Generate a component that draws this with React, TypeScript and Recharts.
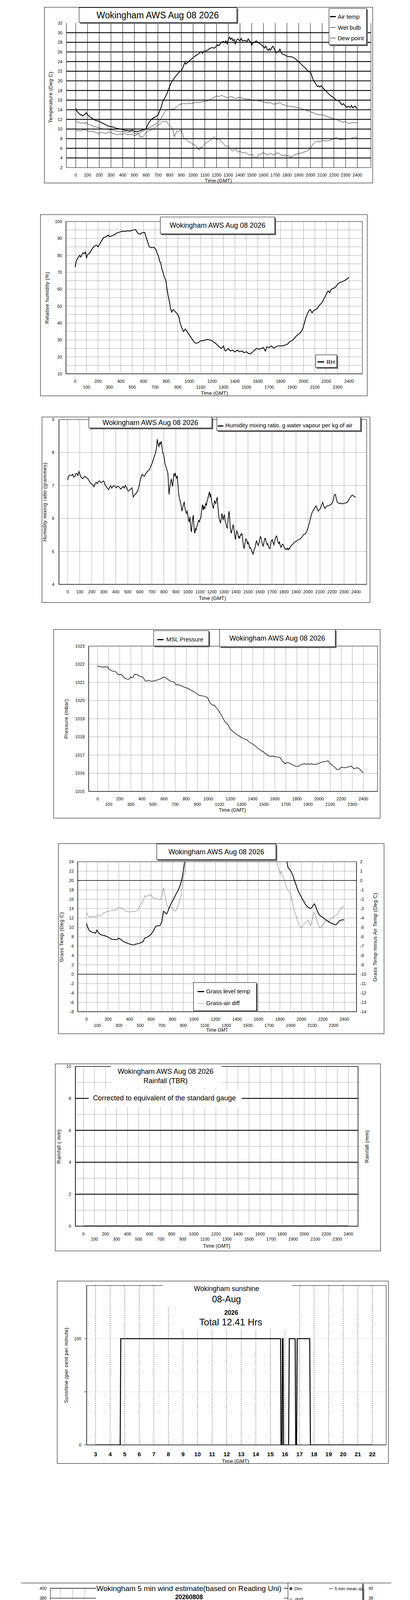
import React from 'react'
import { LineChart, ComposedChart, Line, Scatter, XAxis, YAxis, ReferenceLine, ReferenceArea } from 'recharts'

const FONT = '"Liberation Sans", Arial, Helvetica, sans-serif'

// ---- ticks ----
const hourTicks = [0, 100, 200, 300, 400, 500, 600, 700, 800, 900, 1000, 1100, 1200, 1300, 1400, 1500, 1600, 1700, 1800, 1900, 2000, 2100, 2200, 2300, 2400]
const sunHours = [3, 4, 5, 6, 7, 8, 9, 10, 11, 12, 13, 14, 15, 16, 17, 18, 19, 20, 21, 22]
const tempTicks = [2, 4, 6, 8, 10, 12, 14, 16, 18, 20, 22, 24, 26, 28, 30, 32]
const tempGrid = [4, 6, 8, 10, 12, 14, 16, 18, 20, 22, 24, 26, 28, 30]
const rhTicks = [10, 20, 30, 40, 50, 60, 70, 80, 90, 100]
const rhGrid = [15, 20, 25, 30, 35, 40, 45, 50, 55, 60, 65, 70, 75, 80, 85, 90, 95]
const mixTicks = [4, 5, 6, 7, 8, 9]
const mixGrid = [5, 6, 7, 8]
const presTicks = [1015, 1016, 1017, 1018, 1019, 1020, 1021, 1022, 1023]
const presGrid = [1016, 1017, 1018, 1019, 1020, 1021, 1022]
const grassTicks = [-8, -6, -4, -2, 0, 2, 4, 6, 8, 10, 12, 14, 16, 18, 20, 22, 24]
const grassGrid = [-6, -4, -2, 2, 4, 6, 8, 10, 12, 14, 16, 18, 22]
const grassSolid = [0, 20]
const diffTicks = [-14, -13, -12, -11, -10, -9, -8, -7, -6, -5, -4, -3, -2, -1, 0, 1, 2]
const rainTicks = [0, 2, 4, 6, 8, 10]
const rainMinor = [1, 3, 5, 7, 9]
const rainMajor = [2, 4, 6, 8]
const sunTicks = [0, 50, 100]
const sunGrid = [50, 100]
const degTicks = [0, 20, 40, 60, 80, 100, 120, 140, 160, 180, 200, 220, 240, 260, 280, 300, 320, 340, 360, 380, 400]
const degGrid = [20, 40, 60, 80, 100, 120, 140, 160, 180, 200, 220, 240, 260, 280, 300, 320, 340, 360, 380, 400]
const ktTicks = [0, 2, 4, 6, 8, 10, 12, 14, 16, 18, 20, 22, 24, 26, 28, 30, 32, 34, 36, 38, 40]

// ---- series: [time HHMM, value] ----
const airTemp = [[0,14.3],[10,13.7],[20,13.4],[30,13.2],[40,12.9],[50,13.0],[60,12.7],[70,12.9],[80,13.1],[90,13.4],[100,12.9],[110,12.8],[120,12.5],[140,12.2],[160,11.9],[180,11.7],[200,11.6],[220,11.3],[240,11.1],[260,10.8],[280,10.6],[300,10.5],[320,10.4],[340,10.2],[360,10.1],[380,10.0],[400,9.9],[420,9.7],[440,9.7],[460,9.6],[480,9.8],[500,9.5],[520,9.4],[540,9.6],[560,9.7],[580,9.9],[600,10.1],[610,10.7],[620,11.2],[640,11.9],[660,12.3],[680,12.5],[700,12.9],[710,13.4],[720,14.1],[730,14.7],[740,15.6],[750,16.1],[760,16.5],[770,17.0],[780,17.5],[790,18.2],[800,18.8],[810,19.4],[820,19.9],[840,20.6],[860,21.2],[880,21.8],[900,22.1],[910,22.6],[920,23.2],[930,23.8],[940,23.5],[950,23.7],[960,24.0],[980,24.4],[1000,24.8],[1020,25.2],[1040,25.5],[1060,25.9],[1070,26.1],[1080,25.7],[1090,26.0],[1100,26.2],[1120,26.3],[1140,26.7],[1160,26.9],[1180,26.8],[1200,27.2],[1210,27.5],[1220,27.3],[1240,28.0],[1260,28.2],[1270,27.9],[1280,28.3],[1290,27.7],[1300,28.6],[1310,29.1],[1320,28.6],[1330,28.9],[1340,28.3],[1350,28.6],[1360,27.7],[1370,28.4],[1380,28.7],[1400,28.3],[1410,28.8],[1420,28.3],[1440,28.4],[1460,28.2],[1470,28.7],[1480,28.3],[1490,28.1],[1500,27.4],[1510,27.9],[1520,28.0],[1540,28.3],[1550,28.0],[1560,27.9],[1580,27.5],[1600,27.1],[1610,26.8],[1620,27.2],[1630,26.6],[1640,26.3],[1650,26.7],[1660,26.4],[1670,26.9],[1680,27.2],[1690,26.7],[1700,26.2],[1710,25.8],[1720,26.0],[1730,26.1],[1740,26.6],[1750,26.0],[1760,25.6],[1780,25.4],[1800,25.1],[1820,25.0],[1840,25.0],[1860,24.8],[1880,24.4],[1900,24.0],[1920,23.5],[1940,23.0],[1960,22.6],[1980,22.0],[2000,21.8],[2010,21.2],[2020,20.4],[2040,19.6],[2060,18.8],[2070,19.0],[2080,18.7],[2090,19.0],[2100,18.7],[2120,18.2],[2140,17.7],[2160,17.2],[2180,16.8],[2200,16.5],[2220,16.0],[2240,15.9],[2260,15.3],[2270,15.0],[2280,15.3],[2300,14.7],[2310,14.5],[2320,14.7],[2340,14.5],[2350,14.9],[2360,14.4],[2380,14.8],[2390,14.4],[2400,14.3]]
const wetBulb = [[0,11.6],[20,11.4],[40,11.2],[60,11.3],[80,11.1],[90,11.5],[100,11.0],[120,10.9],[140,10.7],[160,10.5],[180,10.4],[200,10.3],[220,10.1],[240,10.0],[260,10.0],[280,9.9],[300,9.8],[320,9.8],[340,9.6],[360,9.5],[380,9.5],[400,9.4],[420,9.5],[440,9.3],[460,9.4],[480,9.5],[500,9.1],[520,9.0],[540,9.2],[560,9.4],[580,9.6],[600,10.0],[620,10.3],[640,10.4],[660,10.8],[680,11.0],[700,11.3],[720,11.9],[740,12.8],[760,13.6],[780,14.1],[800,14.0],[820,14.2],[840,14.1],[860,14.6],[880,15.0],[900,15.2],[920,15.3],[940,15.2],[960,15.4],[980,15.3],[1000,15.4],[1020,15.5],[1040,15.6],[1060,15.5],[1080,15.7],[1100,15.7],[1120,15.8],[1140,16.1],[1160,16.4],[1180,16.6],[1200,16.9],[1220,16.7],[1240,17.0],[1260,16.8],[1280,16.6],[1300,16.5],[1320,16.8],[1340,16.6],[1360,16.3],[1380,16.5],[1400,16.6],[1420,16.4],[1440,16.3],[1460,16.2],[1480,16.2],[1500,16.0],[1520,15.9],[1540,16.0],[1560,15.8],[1580,15.8],[1600,15.6],[1620,15.5],[1640,15.4],[1660,15.5],[1680,15.2],[1700,15.2],[1720,15.3],[1740,15.5],[1760,15.1],[1780,15.0],[1800,14.8],[1820,14.7],[1840,14.7],[1860,14.6],[1880,14.5],[1900,14.4],[1920,14.3],[1940,14.1],[1960,13.9],[1980,13.8],[2000,13.6],[2020,13.4],[2040,13.2],[2060,13.0],[2080,12.9],[2100,13.0],[2120,12.8],[2140,12.6],[2160,12.4],[2180,12.3],[2200,12.1],[2220,12.0],[2240,11.8],[2260,11.6],[2280,11.4],[2300,11.6],[2320,11.2],[2340,11.2],[2360,11.4],[2380,11.3],[2400,11.3]]
const dewPoint = [[0,9.6],[20,9.7],[40,9.6],[60,9.8],[80,9.9],[100,9.6],[120,9.5],[140,9.5],[160,9.4],[180,9.2],[200,9.1],[220,9.3],[240,9.2],[260,9.1],[280,9.4],[300,9.3],[320,9.1],[340,8.9],[360,8.8],[380,9.0],[400,8.9],[420,9.1],[440,8.8],[460,8.9],[480,8.9],[500,8.6],[520,8.8],[540,9.0],[550,8.3],[570,8.4],[580,8.6],[600,9.3],[620,9.6],[640,9.8],[660,10.0],[680,10.4],[700,10.8],[720,11.1],[740,11.6],[760,11.5],[770,11.7],[780,11.3],[800,10.7],[820,10.2],[830,9.6],[840,8.4],[860,9.5],[880,9.6],[900,9.8],[920,8.2],[940,7.8],[960,7.4],[980,7.2],[1000,6.8],[1020,6.6],[1040,6.0],[1050,5.6],[1060,6.1],[1080,6.3],[1100,6.9],[1120,7.3],[1140,7.6],[1160,7.9],[1180,8.4],[1200,7.8],[1220,8.0],[1240,7.4],[1260,6.9],[1280,6.4],[1300,6.5],[1320,5.8],[1340,5.4],[1360,5.9],[1380,5.2],[1400,5.4],[1420,5.0],[1440,5.2],[1460,4.9],[1480,4.6],[1500,4.8],[1520,4.3],[1540,3.9],[1560,4.7],[1580,4.8],[1600,5.1],[1620,4.8],[1640,4.6],[1660,5.0],[1680,4.6],[1700,4.8],[1720,5.1],[1740,4.8],[1760,4.5],[1780,4.6],[1800,4.5],[1820,4.3],[1840,4.2],[1860,4.6],[1880,4.8],[1900,4.9],[1920,5.0],[1940,5.2],[1960,5.3],[1980,5.6],[2000,5.9],[2020,6.8],[2040,7.3],[2060,7.5],[2080,7.3],[2100,7.6],[2120,7.6],[2140,7.5],[2160,7.6],[2180,7.8],[2200,8.0],[2220,8.3],[2240,7.9],[2260,7.8],[2280,7.9],[2300,7.9],[2320,8.0],[2340,8.0],[2360,8.2],[2380,8.3],[2400,8.2]]

const relHum = [[0,73],[10,76.5],[20,78],[40,80],[50,79],[60,80.5],[70,81.5],[80,81],[90,82],[100,78.5],[110,80.5],[130,81.5],[150,84],[170,85.5],[190,86],[200,85],[210,86],[230,88.5],[250,90.5],[270,91],[290,92],[300,91],[320,91.5],[340,92],[360,93],[380,93.5],[400,94],[420,94.3],[440,94.2],[460,94.5],[480,94.3],[500,94.8],[530,95.2],[550,93],[570,92.5],[590,93.5],[610,93.5],[620,91],[630,89],[650,85],[670,84.5],[690,84.8],[700,84],[710,83],[720,81],[730,79.5],[740,76.5],[750,75.5],[760,72],[770,70],[780,67.5],[795,65],[805,60],[815,56],[825,53],[835,49],[845,46.5],[860,48],[880,46.5],[900,45],[910,43.5],[920,40],[935,37],[950,35],[965,36.5],[980,35],[1000,33],[1015,31.5],[1030,30],[1045,28.5],[1060,28],[1080,28.5],[1100,29.5],[1120,29.5],[1140,30],[1160,30.3],[1180,30],[1200,29.5],[1220,28.5],[1240,27.5],[1260,26],[1280,25],[1300,26.5],[1310,24],[1320,23.5],[1340,25],[1360,23.5],[1380,24],[1400,23],[1420,24],[1440,23],[1460,23.5],[1480,22.5],[1500,23],[1520,22],[1535,21.8],[1550,22.5],[1570,24],[1590,25],[1610,24.5],[1630,25],[1650,25.5],[1665,23.5],[1680,26],[1700,25.5],[1720,26.5],[1740,25],[1760,26],[1780,26.5],[1800,26.5],[1820,26.5],[1840,27],[1860,27.5],[1880,29],[1900,29.5],[1920,31],[1940,32.5],[1960,33.5],[1975,34.5],[1990,36],[2000,38],[2010,40.5],[2020,43],[2035,45.5],[2050,47.5],[2060,48],[2075,46],[2090,47.5],[2110,48],[2125,49],[2140,50.5],[2155,51.5],[2170,53],[2185,55],[2200,57],[2215,59],[2230,58],[2245,60],[2265,60.5],[2285,61.5],[2300,63],[2320,64],[2340,64.5],[2360,65],[2380,66],[2400,67]]

const mixRatio = [[0,7.16],[7,7.28],[20,7.32],[32,7.3],[41,7.34],[50,7.25],[60,7.28],[68,7.36],[75,7.37],[85,7.3],[93,7.42],[100,7.36],[106,7.28],[115,7.24],[125,7.2],[135,7.25],[144,7.28],[153,7.24],[162,7.22],[172,7.18],[181,7.12],[190,7.08],[200,7.04],[210,7.02],[218,6.96],[228,7.05],[237,7.1],[246,7.05],[256,7.12],[265,7.14],[274,7.09],[285,7.1],[295,7.14],[302,7.12],[311,7.02],[321,6.96],[330,6.92],[340,6.87],[349,6.95],[358,6.99],[367,6.92],[376,6.97],[386,7.0],[395,6.96],[405,6.93],[414,6.98],[423,6.97],[432,6.93],[442,6.89],[451,6.93],[461,6.97],[470,6.92],[479,7.0],[489,6.95],[498,6.85],[507,6.83],[517,6.87],[526,6.9],[535,6.93],[540,6.8],[545,6.65],[554,6.7],[563,6.73],[572,6.78],[582,6.83],[591,6.95],[601,7.12],[610,7.25],[619,7.34],[629,7.3],[638,7.28],[648,7.35],[657,7.4],[666,7.44],[675,7.46],[685,7.52],[694,7.6],[703,7.68],[713,7.79],[722,7.9],[731,7.99],[740,8.15],[745,8.4],[750,8.3],[755,8.22],[759,8.18],[765,8.3],[770,8.25],[778,8.34],[785,8.15],[790,8.0],[797,7.95],[805,7.8],[810,7.65],[815,7.6],[825,7.48],[834,7.36],[838,7.05],[843,6.73],[850,6.95],[856,7.1],[862,7.2],[868,7.05],[873,6.97],[879,7.2],[884,7.36],[890,7.3],[895,7.38],[899,7.28],[905,7.22],[912,7.3],[918,6.97],[925,6.7],[933,6.57],[940,6.45],[946,6.35],[951,6.22],[958,6.35],[965,6.45],[970,6.49],[974,6.35],[980,6.25],[987,6.15],[993,6.22],[1000,6.1],[1005,5.95],[1011,5.9],[1017,6.05],[1022,5.8],[1026,5.65],[1030,5.59],[1035,5.85],[1040,6.0],[1045,6.1],[1050,5.8],[1054,5.6],[1058,5.55],[1063,5.7],[1068,5.65],[1073,5.72],[1077,5.79],[1083,5.85],[1090,5.94],[1097,5.9],[1103,6.0],[1108,6.02],[1113,6.2],[1118,6.35],[1123,6.42],[1128,6.25],[1133,6.38],[1137,6.3],[1142,6.3],[1148,6.45],[1154,6.4],[1160,6.53],[1166,6.6],[1172,6.7],[1179,6.81],[1184,6.65],[1190,6.75],[1194,6.6],[1198,6.53],[1204,6.4],[1209,6.35],[1213,6.3],[1218,6.45],[1222,6.55],[1226,6.49],[1232,6.45],[1238,6.55],[1244,6.65],[1249,6.4],[1254,6.18],[1260,6.0],[1266,5.92],[1272,5.87],[1278,6.0],[1283,6.15],[1287,6.1],[1293,5.95],[1298,6.05],[1304,6.1],[1310,5.94],[1316,5.85],[1322,5.75],[1328,5.71],[1333,5.9],[1338,6.1],[1343,6.22],[1348,6.0],[1353,5.7],[1358,5.6],[1362,5.55],[1367,5.65],[1372,5.72],[1376,5.8],[1381,5.75],[1386,5.6],[1391,5.45],[1396,5.36],[1401,5.5],[1406,5.62],[1412,5.59],[1417,5.5],[1422,5.42],[1426,5.45],[1431,5.39],[1436,5.48],[1441,5.52],[1446,5.5],[1450,5.55],[1455,5.4],[1460,5.25],[1464,5.15],[1468,5.08],[1473,5.2],[1478,5.3],[1482,5.38],[1487,5.36],[1492,5.3],[1497,5.22],[1501,5.28],[1506,5.24],[1511,5.15],[1515,5.1],[1520,5.12],[1524,5.08],[1529,5.05],[1533,5.0],[1538,4.95],[1543,4.92],[1547,5.0],[1552,5.05],[1556,5.08],[1561,5.15],[1566,5.25],[1571,5.32],[1576,5.28],[1580,5.22],[1585,5.18],[1590,5.24],[1595,5.3],[1599,5.38],[1604,5.45],[1608,5.43],[1613,5.35],[1618,5.25],[1622,5.2],[1627,5.16],[1632,5.25],[1636,5.32],[1641,5.4],[1646,5.39],[1650,5.3],[1655,5.25],[1660,5.2],[1664,5.24],[1669,5.18],[1674,5.12],[1678,5.1],[1683,5.08],[1688,5.2],[1692,5.3],[1697,5.33],[1702,5.36],[1706,5.3],[1711,5.25],[1716,5.2],[1720,5.28],[1725,5.35],[1730,5.42],[1734,5.45],[1739,5.47],[1744,5.38],[1748,5.3],[1753,5.26],[1758,5.24],[1762,5.3],[1767,5.2],[1772,5.15],[1776,5.12],[1781,5.18],[1786,5.22],[1790,5.2],[1795,5.2],[1800,5.14],[1804,5.1],[1809,5.08],[1814,5.08],[1818,5.05],[1823,5.07],[1828,5.1],[1832,5.06],[1837,5.05],[1842,5.1],[1846,5.08],[1851,5.12],[1856,5.15],[1860,5.18],[1865,5.2],[1870,5.2],[1879,5.25],[1888,5.28],[1897,5.3],[1907,5.32],[1916,5.35],[1926,5.36],[1935,5.38],[1944,5.41],[1953,5.46],[1963,5.51],[1972,5.52],[1982,5.55],[1991,5.62],[2000,5.71],[2010,5.85],[2019,5.98],[2027,6.1],[2034,6.18],[2040,6.22],[2047,6.26],[2056,6.32],[2066,6.38],[2075,6.3],[2085,6.22],[2094,6.26],[2103,6.3],[2112,6.4],[2122,6.49],[2131,6.38],[2141,6.3],[2150,6.35],[2159,6.38],[2169,6.38],[2178,6.4],[2187,6.42],[2196,6.44],[2206,6.5],[2215,6.65],[2220,6.72],[2228,6.73],[2235,6.6],[2243,6.49],[2252,6.47],[2261,6.45],[2270,6.47],[2280,6.44],[2289,6.45],[2299,6.46],[2308,6.47],[2317,6.47],[2327,6.5],[2336,6.53],[2345,6.6],[2355,6.65],[2364,6.7],[2373,6.71],[2383,6.66],[2392,6.65],[2398,6.65]]

const mslPressure = [[0,1021.86],[8,1021.9],[16,1021.88],[30,1021.86],[47,1021.84],[62,1021.86],[77,1021.85],[93,1021.85],[101,1021.72],[115,1021.68],[128,1021.64],[143,1021.6],[158,1021.62],[173,1021.52],[188,1021.42],[204,1021.44],[219,1021.42],[234,1021.3],[249,1021.23],[264,1021.18],[279,1021.16],[290,1021.22],[300,1021.31],[310,1021.26],[320,1021.27],[328,1021.4],[336,1021.46],[348,1021.42],[360,1021.42],[370,1021.38],[381,1021.32],[393,1021.33],[405,1021.31],[418,1021.2],[431,1021.07],[446,1021.08],[462,1021.12],[477,1021.07],[492,1021.07],[507,1021.08],[522,1021.09],[538,1021.14],[553,1021.16],[568,1021.2],[583,1021.25],[595,1021.3],[607,1021.27],[620,1021.24],[634,1021.17],[649,1021.1],[664,1021.05],[679,1021.04],[694,1021.01],[702,1020.92],[709,1020.86],[722,1020.88],[735,1020.86],[750,1020.82],[765,1020.79],[780,1020.75],[796,1020.71],[811,1020.68],[826,1020.64],[841,1020.58],[856,1020.53],[871,1020.48],[887,1020.42],[899,1020.36],[911,1020.31],[924,1020.28],[937,1020.27],[952,1020.25],[968,1020.23],[980,1020.2],[992,1020.16],[1000,1020.08],[1008,1019.97],[1018,1019.86],[1028,1019.79],[1043,1019.73],[1051,1019.76],[1059,1019.71],[1069,1019.62],[1079,1019.56],[1089,1019.47],[1099,1019.38],[1109,1019.28],[1119,1019.19],[1130,1019.06],[1140,1018.93],[1150,1018.85],[1160,1018.78],[1170,1018.72],[1180,1018.64],[1190,1018.52],[1200,1018.41],[1210,1018.37],[1221,1018.3],[1236,1018.22],[1251,1018.15],[1266,1018.1],[1282,1018.04],[1297,1017.98],[1312,1017.93],[1327,1017.88],[1343,1017.86],[1357,1017.78],[1372,1017.71],[1388,1017.64],[1403,1017.6],[1418,1017.52],[1433,1017.45],[1449,1017.37],[1464,1017.3],[1479,1017.24],[1494,1017.19],[1509,1017.11],[1524,1017.04],[1540,1016.98],[1555,1016.93],[1570,1016.93],[1585,1016.94],[1600,1016.92],[1615,1016.89],[1630,1016.9],[1646,1016.86],[1656,1016.78],[1666,1016.67],[1681,1016.6],[1696,1016.52],[1706,1016.56],[1717,1016.6],[1732,1016.55],[1747,1016.52],[1762,1016.45],[1777,1016.41],[1792,1016.38],[1808,1016.37],[1823,1016.42],[1838,1016.48],[1853,1016.5],[1869,1016.52],[1884,1016.5],[1899,1016.51],[1914,1016.5],[1929,1016.52],[1945,1016.5],[1960,1016.48],[1975,1016.5],[1990,1016.52],[2003,1016.56],[2016,1016.6],[2028,1016.62],[2040,1016.63],[2050,1016.64],[2061,1016.65],[2071,1016.67],[2081,1016.69],[2091,1016.6],[2101,1016.52],[2116,1016.45],[2131,1016.37],[2146,1016.3],[2162,1016.2],[2172,1016.21],[2182,1016.22],[2192,1016.28],[2202,1016.34],[2218,1016.32],[2233,1016.3],[2248,1016.32],[2263,1016.34],[2276,1016.37],[2289,1016.4],[2300,1016.33],[2314,1016.25],[2329,1016.28],[2344,1016.3],[2356,1016.27],[2368,1016.22],[2377,1016.15],[2385,1016.1],[2393,1016.06],[2400,1016.04]]

// grass temp runs off the top of its chart through the day (values there estimated)
const grassTemp = [[0,10.85],[6,10.2],[13,9.85],[20,9.5],[27,9.28],[38,9.1],[48,8.99],[58,8.9],[69,8.85],[77,8.8],[84,8.76],[90,9.1],[96,9.42],[103,9.15],[111,8.85],[121,8.6],[132,8.41],[147,8.33],[163,8.27],[178,8.15],[194,7.98],[210,7.78],[225,7.55],[241,7.46],[257,7.41],[272,7.4],[288,7.41],[298,7.7],[308,7.55],[319,7.41],[330,7.2],[340,6.98],[356,6.85],[372,6.69],[388,6.55],[403,6.41],[418,6.32],[434,6.26],[445,6.3],[455,6.41],[470,6.48],[486,6.55],[502,6.7],[518,6.84],[530,7.1],[539,7.7],[550,7.76],[560,7.84],[570,7.98],[580,8.13],[590,8.32],[601,8.56],[612,8.9],[622,9.28],[632,9.7],[643,10.14],[653,10.3],[664,10.34],[675,10.36],[685,10.42],[693,10.8],[701,11.28],[708,12.3],[716,13.44],[724,13.3],[731,13.15],[740,12.95],[747,12.86],[758,13.5],[768,14.15],[779,14.7],[789,15.16],[800,15.6],[810,16.02],[820,16.5],[831,17.03],[841,17.45],[852,17.89],[862,18.45],[872,19.03],[880,19.7],[889,20.47],[896,21.4],[904,22.48],[914,24.1],[950,29],[1050,35],[1200,40],[1350,42],[1500,40],[1650,35],[1800,28],[1864,24.1],[1875,22.77],[1885,22.5],[1896,22.19],[1906,21.8],[1917,21.33],[1927,20.6],[1937,19.9],[1948,19.2],[1958,18.46],[1968,17.9],[1979,17.31],[1990,16.9],[2000,16.45],[2010,16.0],[2021,15.59],[2031,15.15],[2042,14.73],[2052,14.5],[2063,14.3],[2073,14.15],[2084,14.01],[2092,14.1],[2100,14.3],[2110,14.7],[2121,15.02],[2128,14.7],[2136,14.3],[2146,13.6],[2157,13.01],[2167,12.7],[2177,12.43],[2188,12.3],[2198,12.15],[2209,11.95],[2219,11.72],[2235,11.5],[2251,11.28],[2266,11.05],[2282,10.85],[2298,10.7],[2313,10.57],[2320,10.55],[2327,10.65],[2334,10.85],[2345,11.15],[2355,11.43],[2370,11.55],[2386,11.63],[2400,11.57]]
const grassDiff = [[0,-3.42],[6,-3.6],[13,-3.78],[20,-3.85],[27,-3.93],[38,-3.87],[48,-3.85],[58,-3.9],[69,-3.78],[80,-3.9],[90,-3.85],[97,-3.7],[104,-3.71],[118,-3.8],[132,-3.78],[147,-3.6],[163,-3.42],[174,-3.4],[184,-3.35],[195,-3.3],[205,-3.28],[220,-3.25],[236,-3.21],[251,-3.18],[267,-3.14],[283,-3.0],[298,-2.85],[310,-2.92],[320,-2.9],[330,-2.95],[340,-3.05],[351,-3.14],[366,-3.28],[382,-3.35],[397,-3.34],[413,-3.35],[429,-3.3],[445,-3.32],[460,-3.25],[476,-3.21],[486,-2.9],[497,-2.63],[507,-2.5],[518,-2.42],[530,-2.0],[543,-1.63],[551,-1.68],[560,-1.7],[570,-1.6],[580,-1.56],[590,-1.52],[601,-1.49],[611,-1.75],[622,-1.92],[632,-1.9],[643,-1.92],[653,-1.95],[664,-1.99],[675,-2.02],[685,-2.06],[693,-1.9],[701,-1.7],[709,-1.2],[716,-0.77],[721,-1.0],[726,-1.34],[736,-2.0],[747,-2.63],[757,-2.8],[768,-2.92],[778,-2.88],[789,-2.85],[800,-3.0],[810,-3.14],[818,-3.2],[827,-3.28],[834,-3.15],[841,-3.0],[851,-2.7],[862,-2.35],[870,-2.0],[879,-1.63],[886,-1.0],[894,-0.2],[899,0.2],[904,0.52],[909,0.6],[914,0.67],[919,1.24],[925,2.05],[1000,5],[1200,9],[1400,11],[1600,8],[1700,5],[1770,2.05],[1781,1.53],[1791,1.1],[1802,0.67],[1812,0.95],[1822,0.6],[1833,0.24],[1843,-0.1],[1854,-0.48],[1864,-0.8],[1875,-1.06],[1885,-1.2],[1896,-1.34],[1906,-1.8],[1917,-2.35],[1927,-2.9],[1937,-3.35],[1948,-3.7],[1958,-4.07],[1968,-4.45],[1979,-4.79],[1990,-4.95],[2000,-5.07],[2010,-4.9],[2021,-4.71],[2031,-4.6],[2042,-4.5],[2052,-4.35],[2063,-4.21],[2073,-4.5],[2084,-4.86],[2094,-4.5],[2104,-4.07],[2110,-3.7],[2117,-3.35],[2126,-3.6],[2136,-3.93],[2146,-4.3],[2157,-4.64],[2164,-4.85],[2171,-5.07],[2180,-5.0],[2188,-4.93],[2198,-4.8],[2209,-4.64],[2219,-4.4],[2230,-4.21],[2240,-4.35],[2251,-4.5],[2261,-4.3],[2271,-4.07],[2282,-4.0],[2292,-3.93],[2303,-3.85],[2313,-3.78],[2323,-3.7],[2334,-3.64],[2345,-3.45],[2355,-3.21],[2364,-3.05],[2372,-2.92],[2386,-2.85],[2400,-2.71]]

const rainfall = [[0,0],[600,0],[1200,0],[1800,0],[2400,0]]

// sunshine, time in decimal hours
const sunshine = [[3,0],[4.69,0],[4.73,100],[15.7,100],[15.73,0],[15.8,0],[15.83,100],[15.87,100],[15.9,0],[16.25,0],[16.3,100],[16.7,100],[16.74,0],[16.8,0],[16.84,100],[17.7,100],[17.75,0],[22,0]]

const windDir = [[0,151],[10,151],[16,174],[27,174],[34,170],[42,167],[53,165],[56,360],[64,360],[81,360],[93,167],[99,174],[108,181],[117,188],[124,360],[139,360],[151,199],[157,210],[167,215],[177,360],[192,360],[209,360],[218,220],[224,223],[230,226],[237,229],[244,231],[248,360],[263,360],[275,268],[285,294],[291,312],[299,316],[306,316],[316,316],[326,62],[332,108],[340,111],[348,133],[356,122],[363,122],[368,125],[375,125],[383,126],[393,119],[399,113],[408,104],[415,129],[423,131],[429,133],[435,135],[440,121],[451,14],[459,348],[467,7],[476,96],[482,98],[493,74],[501,69],[507,33],[518,11],[523,357],[536,360],[547,360],[558,10],[565,41],[573,69],[584,85],[589,97],[598,94],[607,92],[616,73],[624,79],[632,119],[642,120],[650,115],[657,108],[667,139],[674,187],[683,191],[691,185],[699,198],[708,163],[718,100],[724,116],[735,149],[740,123],[748,149],[759,165],[765,141],[775,131],[782,129],[792,152],[799,162],[808,176],[816,165],[823,130],[832,127],[842,141],[849,130],[857,130],[865,133],[874,126],[883,144],[888,148],[898,137],[908,161],[915,161],[923,166],[930,195],[939,199],[949,191],[959,200],[967,201],[972,196],[981,198],[992,170],[998,153],[1007,158],[1013,176],[1022,178],[1031,141],[1038,140],[1049,170],[1056,185],[1064,187],[1074,198],[1081,192],[1090,185],[1099,174],[1106,191],[1117,212],[1122,209],[1132,191],[1141,189],[1148,209],[1157,204],[1166,198],[1173,200],[1182,188],[1189,185],[1197,163],[1208,152],[1213,185],[1223,192],[1228,185],[1238,196],[1249,192],[1256,154],[1268,156],[1275,178],[1284,169],[1293,170],[1300,176],[1308,171],[1316,171],[1322,198],[1333,197],[1341,187],[1351,196],[1360,210],[1366,213],[1374,216],[1382,211],[1391,192],[1402,186],[1407,202],[1417,206],[1426,200],[1435,211],[1443,223],[1450,210],[1458,192],[1467,204],[1475,221],[1484,211],[1492,211],[1501,211],[1508,203],[1516,193],[1526,197],[1533,186],[1542,164],[1551,174],[1558,187],[1566,196],[1575,207],[1583,207],[1593,204],[1599,210],[1607,210],[1618,200],[1627,202],[1641,196],[1651,186],[1660,184],[1668,192],[1677,196],[1683,204],[1692,203],[1700,200],[1709,203],[1717,196],[1724,180],[1733,189],[1743,207],[1751,204],[1760,201],[1766,204],[1774,208],[1782,197],[1790,189],[1800,191],[1810,201],[1816,214],[1825,220],[1834,228],[1842,222],[1852,197],[1861,193],[1869,191],[1878,188],[1885,198],[1893,204],[1902,196],[1910,194],[1919,191],[1927,188],[1936,188],[1944,186],[1953,185],[1961,185],[1970,185],[1978,185],[1987,185],[1995,186],[2004,188],[2012,191],[2023,192],[2031,190],[2039,188],[2048,188],[2057,187],[2065,184],[2074,175],[2082,172],[2091,178],[2099,178],[2108,178],[2116,174],[2126,137],[2134,136],[2142,143],[2150,147],[2158,156],[2166,154],[2171,360],[2186,360],[2192,154],[2200,154],[2209,154],[2214,360],[2218,154],[2227,154],[2234,154],[2242,154],[2250,360],[2265,360],[2282,360],[2297,360],[2312,360],[2329,154],[2330,360],[2333,154],[2346,360],[2361,360],[2373,153],[2382,153],[2391,152],[2400,360]]

const gust = [[0,3.4],[14,3.2],[27,2.2],[42,1.6],[58,0.2],[74,0.1],[90,0.5],[101,3.5],[106,2.2],[117,0.3],[127,0.1],[140,0.1],[154,1.9],[165,0.3],[175,0],[207,0],[220,1.9],[234,1.1],[249,0],[266,0],[276,1.6],[283,0.9],[292,1.6],[300,3.0],[311,3.2],[320,2.4],[327,3.4],[334,1.4],[343,0.1],[350,5.3],[358,6.5],[364,5.3],[375,4.5],[383,4.1],[391,2.4],[400,1.1],[407,0.3],[413,1.6],[419,2.7],[427,3.2],[435,3.0],[443,1.4],[451,2.2],[457,2.4],[462,1.4],[470,1.9],[478,1.4],[485,1.9],[492,1.3],[499,1.8],[506,2.0],[515,0.9],[525,0.1],[536,0.3],[547,0.1],[555,1.1],[568,2.0],[579,1.1],[589,0.5],[600,2.0],[611,2.2],[621,2.4],[632,3.2],[642,3.5],[651,3.0],[659,3.5],[667,2.7],[676,3.7],[685,4.1],[694,2.8],[700,4.0],[708,4.5],[717,3.5],[725,4.5],[735,5.7],[743,5.1],[752,4.3],[759,4.8],[770,4.3],[780,5.1],[791,5.6],[802,6.9],[814,7.9],[823,7.0],[833,6.6],[844,6.8],[855,6.0],[863,6.8],[874,7.5],[881,5.2],[890,9.1],[897,8.2],[902,11.1],[908,14.2],[913,12.6],[921,9.8],[926,15.5],[934,13.2],[941,14.2],[948,12.4],[955,14.5],[963,13.4],[971,13.2],[980,11.6],[987,14.7],[993,18.3],[998,14.0],[1005,13.7],[1014,11.6],[1022,12.6],[1030,14.2],[1038,11.9],[1046,10.0],[1054,8.5],[1062,12.1],[1069,14.0],[1078,11.6],[1086,12.4],[1093,13.7],[1101,11.1],[1109,12.6],[1117,14.2],[1123,16.2],[1131,12.1],[1139,14.2],[1148,9.0],[1154,12.6],[1160,14.7],[1168,11.6],[1175,9.0],[1184,14.5],[1192,16.6],[1200,18.3],[1206,16.8],[1210,12.1],[1213,10.8],[1218,14.2],[1227,16.2],[1234,13.7],[1242,12.3],[1250,13.7],[1259,14.5],[1267,12.6],[1275,11.6],[1282,10.5],[1290,13.7],[1298,13.4],[1306,12.9],[1314,12.9],[1324,11.9],[1333,9.5],[1340,11.6],[1348,11.9],[1354,13.7],[1362,16.8],[1369,15.3],[1375,15.5],[1383,13.7],[1390,12.1],[1399,12.1],[1405,14.5],[1409,13.2],[1417,12.1],[1424,17.6],[1431,14.2],[1439,15.5],[1447,15.8],[1452,16.6],[1460,14.2],[1468,10.8],[1475,14.2],[1484,15.3],[1492,13.7],[1500,12.6],[1507,12.1],[1516,13.2],[1524,15.8],[1530,12.1],[1537,10.0],[1544,11.1],[1552,10.0],[1558,12.1],[1566,13.2],[1574,15.0],[1581,12.1],[1590,10.5],[1597,10.3],[1605,14.2],[1609,15.8],[1616,12.1],[1622,10.0],[1627,14.7],[1634,12.6],[1643,14.2],[1651,13.7],[1660,15.0],[1666,14.5],[1673,10.0],[1680,9.0],[1687,9.8],[1696,10.0],[1704,9.0],[1713,9.8],[1721,9.0],[1730,8.5],[1738,9.0],[1747,9.5],[1754,8.2],[1762,7.4],[1770,7.9],[1777,7.1],[1784,9.0],[1792,7.9],[1799,6.9],[1807,6.4],[1815,7.4],[1823,5.6],[1831,6.1],[1838,4.5],[1845,5.6],[1852,10.8],[1858,8.5],[1864,9.0],[1872,6.9],[1880,6.4],[1887,6.1],[1894,5.6],[1902,7.9],[1908,6.4],[1917,6.9],[1924,11.2],[1932,7.1],[1940,5.8],[1949,6.1],[1957,5.6],[1966,5.8],[1974,5.3],[1983,7.5],[1991,5.8],[2000,5.1],[2008,5.6],[2017,5.1],[2025,5.8],[2034,5.1],[2042,5.8],[2051,5.3],[2059,4.8],[2068,3.5],[2076,4.0],[2085,3.2],[2093,4.0],[2101,4.3],[2110,3.5],[2116,1.6],[2124,3.5],[2131,3.0],[2140,2.4],[2147,1.1],[2155,1.4],[2163,0.6],[2172,0.1],[2179,1.4],[2186,1.9],[2195,0.1],[2203,0.6],[2211,1.1],[2218,0.9],[2227,1.1],[2235,0.9],[2244,0.1],[2312,0.1],[2324,0.9],[2331,0.1],[2365,0.1],[2373,2.0],[2382,2.0],[2390,0.2],[2397,0]]

const meanSpeed = [[0,1.9],[14,1.8],[27,1.7],[37,1.4],[48,0.6],[58,0.1],[90,0.1],[106,1.1],[117,0.1],[138,0.1],[154,1.1],[165,0.1],[207,0.1],[220,1.1],[234,0.3],[249,0.1],[276,0.1],[290,0.5],[300,1.1],[313,1.6],[324,1.9],[334,1.3],[343,0.5],[352,3.2],[359,4.3],[366,3.9],[372,2.7],[382,2.4],[391,1.9],[400,0.6],[409,1.1],[419,1.8],[428,1.1],[440,0.2],[451,1.1],[462,0.6],[472,1.1],[483,0.9],[494,1.1],[506,1.3],[520,0.6],[531,0.1],[552,0.1],[563,0.9],[573,1.3],[584,0.9],[594,0.3],[605,0.6],[619,0.9],[632,1.3],[644,1.8],[655,1.4],[669,1.5],[683,1.5],[695,1.7],[708,1.9],[722,2.0],[735,2.2],[746,3.0],[757,3.9],[768,2.7],[778,3.1],[791,3.4],[804,4.3],[814,4.7],[825,4.5],[839,4.1],[849,4.1],[860,3.5],[870,4.3],[881,4.4],[892,3.5],[902,5.3],[910,6.1],[918,5.6],[929,7.4],[939,8.8],[948,7.9],[955,8.7],[966,9.4],[977,8.6],[987,7.8],[998,7.9],[1006,7.4],[1016,6.8],[1024,7.7],[1035,6.4],[1044,7.7],[1051,6.4],[1059,5.3],[1067,6.4],[1075,6.8],[1083,5.8],[1091,7.7],[1099,7.4],[1107,6.4],[1117,7.9],[1125,8.1],[1136,8.1],[1146,7.4],[1157,7.4],[1168,6.4],[1175,5.3],[1184,6.9],[1194,7.3],[1205,7.7],[1216,8.5],[1224,9.4],[1231,8.3],[1239,7.3],[1249,7.3],[1258,8.1],[1264,7.4],[1271,9.1],[1280,8.5],[1287,5.8],[1295,7.7],[1303,8.8],[1311,8.5],[1319,6.1],[1327,6.5],[1335,6.4],[1344,6.4],[1351,6.6],[1359,8.2],[1367,10.8],[1374,10.3],[1383,9.0],[1390,8.2],[1399,7.1],[1406,8.3],[1414,8.2],[1420,7.8],[1428,7.1],[1436,9.1],[1443,9.0],[1452,9.2],[1458,8.6],[1465,9.0],[1471,7.4],[1478,7.9],[1486,8.2],[1494,9.4],[1503,9.0],[1510,7.7],[1518,6.9],[1526,6.8],[1534,6.4],[1543,6.1],[1552,6.1],[1560,6.9],[1569,7.7],[1577,7.9],[1586,6.4],[1594,7.7],[1603,8.5],[1611,9.4],[1620,7.9],[1628,6.5],[1637,6.5],[1645,6.6],[1654,7.1],[1661,7.4],[1667,8.6],[1675,7.7],[1681,5.6],[1691,5.4],[1701,5.1],[1712,5.3],[1722,5.7],[1733,5.6],[1743,5.2],[1754,5.3],[1765,5.1],[1776,4.8],[1786,4.3],[1797,4.5],[1807,4.3],[1816,4.0],[1825,3.5],[1834,3.2],[1842,3.0],[1850,4.3],[1857,5.3],[1866,5.4],[1874,4.8],[1882,4.0],[1890,3.6],[1898,4.0],[1906,4.3],[1914,4.5],[1922,4.0],[1930,6.1],[1937,5.1],[1945,4.1],[1954,4.0],[1963,3.9],[1993,3.9],[2002,3.5],[2010,3.5],[2020,3.7],[2030,3.9],[2041,3.9],[2052,3.7],[2060,3.5],[2068,2.7],[2076,2.0],[2085,1.9],[2093,2.4],[2101,2.7],[2110,1.9],[2118,1.6],[2127,1.6],[2135,1.4],[2144,1.1],[2152,0.9],[2163,0.5],[2174,0.1],[2184,0.7],[2195,0.5],[2203,0.1],[2211,0.5],[2218,0.1],[2322,0.2],[2331,0.1],[2370,0.1],[2378,0.7],[2384,0.9],[2391,0.2],[2397,0.1]]

const pts = (a: number[][]) => a.map(([t, v]) => ({ t, v }))
const dirPts = windDir.map(([t, d]) => ({ t, d }))

// ---- helpers ----
const tk = (size = 11) => ({ fontSize: size, fill: '#000', fontFamily: FONT })
const axis = { stroke: '#000' }

function TimeTick(props: any) {
  const { x, y, payload, off = 17, off2 = 0, size = 11, bold = false } = props
  const v = payload?.value
  const low = off2 > 0 && Math.round(v / 100) % 2 === 1
  return (
    <text x={x} y={y + (low ? off2 : off)} textAnchor="middle" dominantBaseline="central" fontSize={size} fontWeight={bold ? 700 : 400} fontFamily={FONT} fill="#000">
      {v}
    </text>
  )
}

function DirDot(props: any) {
  const { cx, cy } = props
  if (cx == null || cy == null) return null
  return <circle cx={cx} cy={cy} r={3.3} fill="#4a4a4a" stroke="#111" strokeWidth={0.8} />
}

function Frame({ x, y, w, h }: { x: number; y: number; w: number; h: number }) {
  return <div style={{ position: 'absolute', left: x, top: y, width: w, height: h, border: '1px solid #000', boxSizing: 'border-box' }} />
}

function Panel({ x, y, w, h, shadow = true, border = true, children }: any) {
  return (
    <div
      style={{
        position: 'absolute', left: x, top: y, width: w, height: h, boxSizing: 'border-box', background: '#fff',
        border: border ? '1px solid #000' : 'none', boxShadow: shadow ? '3px 3px 0 #6a6a6a' : 'none',
      }}
    >
      {children}
    </div>
  )
}

function T({ x, y, s = 13, b = false, rot = 0, a = 'c', ls = 0, children }: any) {
  return (
    <div
      style={{
        position: 'absolute', left: x, top: y, fontSize: s, fontWeight: b ? 700 : 400, fontFamily: FONT, whiteSpace: 'nowrap',
        lineHeight: 1, letterSpacing: ls, color: '#000', transform: `translate(${a === 'c' ? '-50%' : '0'}, -50%) rotate(${rot}deg)`,
      }}
    >
      {children}
    </div>
  )
}

function Swatch({ x, y, w, h, c }: any) {
  return <div style={{ position: 'absolute', left: x, top: y - h / 2, width: w, height: h, background: c }} />
}

function At({ x, y, children }: any) {
  return <div style={{ position: 'absolute', left: x, top: y }}>{children}</div>
}

const TITLE = 'Wokingham AWS Aug 08 2026'

// ---- 1. temperatures ----
function TempChart() {
  return (
    <>
      <Frame x={113} y={18} w={842} h={451} />
      <At x={113} y={18}>
        <LineChart width={842} height={451} margin={{ top: 41, right: 5, bottom: 0, left: 0 }}>
          <XAxis type="number" dataKey="t" domain={[-80, 2516]} ticks={hourTicks} interval={0} allowDataOverflow height={40} tickSize={0} tickLine={false} axisLine={axis} tick={<TimeTick off={17} />} />
          <YAxis type="number" domain={[2, 32]} ticks={tempTicks} interval={0} allowDataOverflow width={57} tickSize={0} tickMargin={10} tickLine={false} axisLine={axis} tick={tk(11)} />
          {hourTicks.map((v) => <ReferenceLine key={'v' + v} x={v} stroke="#000" strokeWidth={1} />)}
          {tempGrid.map((v) => <ReferenceLine key={'h' + v} y={v} stroke="#000" strokeWidth={2.2} />)}
          <ReferenceLine x={2516} stroke="#000" />
          <Line data={pts(dewPoint)} dataKey="v" type="linear" stroke="#111" strokeWidth={1} dot={false} activeDot={false} isAnimationActive={false} />
          <Line data={pts(wetBulb)} dataKey="v" type="linear" stroke="#111" strokeWidth={1} dot={false} activeDot={false} isAnimationActive={false} />
          <Line data={pts(airTemp)} dataKey="v" type="linear" stroke="#000" strokeWidth={2} dot={false} activeDot={false} isAnimationActive={false} />
        </LineChart>
      </At>
      <Panel x={202} y={19} w={405} h={39}>
        <T x={201} y={19} s={23}>{TITLE}</T>
      </Panel>
      <Panel x={842} y={21} w={97} h={94}>
        <Swatch x={2} y={20} w={15} h={3} c="#000" />
        <T x={22} y={20} s={15} a="l">Air temp</T>
        <Swatch x={2} y={48} w={15} h={1} c="#000" />
        <T x={22} y={48} s={15} a="l">Wet bulb</T>
        <Swatch x={2} y={75} w={15} h={1} c="#000" />
        <T x={22} y={75} s={15} a="l">Dew point</T>
      </Panel>
      <T x={559} y={462} s={13}>Time (GMT)</T>
      <T x={129} y={249} s={13} rot={-90} ls={0.5}>Temperature (Deg C)</T>
    </>
  )
}

// ---- 2. relative humidity ----
function RhChart() {
  return (
    <>
      <Frame x={103} y={549} w={838} h={465} />
      <At x={103} y={549}>
        <LineChart width={838} height={465} margin={{ top: 18, right: 13, bottom: 0, left: 0 }}>
          <XAxis type="number" dataKey="t" domain={[-80, 2516]} ticks={hourTicks} interval={0} allowDataOverflow height={57} tickSize={0} tickLine={false} axisLine={axis} tick={<TimeTick off={17} off2={32} />} />
          <YAxis type="number" domain={[10, 100]} ticks={rhTicks} interval={0} allowDataOverflow width={66} tickSize={0} tickMargin={10} tickLine={false} axisLine={axis} tick={tk(11)} />
          {hourTicks.map((v) => <ReferenceLine key={'v' + v} x={v} stroke="#000" strokeDasharray="1 2" />)}
          {rhGrid.map((v) => <ReferenceLine key={'h' + v} y={v} stroke="#000" strokeDasharray="1 2" />)}
          <ReferenceArea x1={-80} x2={2516} y1={10} y2={100} fill="none" stroke="#000" strokeWidth={1} />
          <Line data={pts(relHum)} dataKey="v" type="linear" stroke="#000" strokeWidth={2} dot={false} activeDot={false} isAnimationActive={false} />
        </LineChart>
      </At>
      <Panel x={410} y={555} w={294} h={44}>
        <T x={146} y={21} s={18}>{TITLE}</T>
      </Panel>
      <Panel x={808} y={908} w={55} h={33}>
        <Swatch x={4} y={17} w={17} h={3} c="#000" />
        <T x={27} y={17} s={15} a="l">RH</T>
      </Panel>
      <T x={549} y={1006} s={13}>Time (GMT)</T>
      <T x={120} y={762} s={13} rot={-90} ls={0.5}>Relative humidity (%)</T>
    </>
  )
}

// ---- 3. mixing ratio ----
function MixChart() {
  return (
    <>
      <Frame x={107} y={1067} w={841} h={476} />
      <At x={107} y={1067}>
        <LineChart width={841} height={476} margin={{ top: 7, right: 9, bottom: 0, left: 0 }}>
          <XAxis type="number" dataKey="t" domain={[-73, 2488]} ticks={hourTicks} interval={0} allowDataOverflow height={47} tickSize={0} tickLine={false} axisLine={axis} tick={<TimeTick off={17} />} />
          <YAxis type="number" domain={[4, 9]} ticks={mixTicks} interval={0} allowDataOverflow width={44} tickSize={0} tickMargin={12} tickLine={false} axisLine={axis} tick={tk(11)} />
          {hourTicks.map((v) => <ReferenceLine key={'v' + v} x={v} stroke="#000" strokeDasharray="1 2" />)}
          {mixGrid.map((v) => <ReferenceLine key={'h' + v} y={v} stroke="#000" strokeDasharray="1 2" />)}
          <ReferenceArea x1={-73} x2={2488} y1={4} y2={9} fill="none" stroke="#000" strokeWidth={1} />
          <Line data={pts(mixRatio)} dataKey="v" type="linear" stroke="#000" strokeWidth={1.8} dot={false} activeDot={false} isAnimationActive={false} />
        </LineChart>
      </At>
      <Panel x={227} y={1067} w={316} h={29}>
        <T x={157} y={14} s={18}>{TITLE}</T>
      </Panel>
      <Panel x={555} y={1067} w={369} h={36}>
        <Swatch x={2} y={22} w={14} h={3} c="#000" />
        <T x={21} y={21} s={14.8} a="l">Humidity mixing ratio, g water vapour per kg of air</T>
      </Panel>
      <T x={544} y={1531} s={13}>Time (GMT)</T>
      <T x={114} y={1285} s={13} rot={-90} ls={0.5}>Humidity mixing ratio (grammes)</T>
    </>
  )
}

// ---- 4. pressure ----
function PressureChart() {
  return (
    <>
      <Frame x={137} y={1611} w={837} h={484} />
      <At x={137} y={1611}>
        <LineChart width={837} height={484} margin={{ top: 43, right: 7, bottom: 0, left: 0 }}>
          <XAxis type="number" dataKey="t" domain={[-81, 2528]} ticks={hourTicks} interval={0} allowDataOverflow height={69} tickSize={0} tickLine={false} axisLine={axis} tick={<TimeTick off={17} off2={31} />} />
          <YAxis type="number" domain={[1015, 1023]} ticks={presTicks} interval={0} allowDataOverflow width={90} tickSize={0} tickMargin={10} tickLine={false} axisLine={axis} tick={tk(11)} />
          {hourTicks.map((v) => <ReferenceLine key={'v' + v} x={v} stroke="#000" strokeDasharray="1 2" />)}
          {presGrid.map((v) => <ReferenceLine key={'h' + v} y={v} stroke="#000" strokeDasharray="1 2" />)}
          <ReferenceArea x1={-81} x2={2528} y1={1015} y2={1023} fill="none" stroke="#000" strokeWidth={1} />
          <Line data={pts(mslPressure)} dataKey="v" type="linear" stroke="#000" strokeWidth={1.4} dot={false} activeDot={false} isAnimationActive={false} />
        </LineChart>
      </At>
      <Panel x={393} y={1614} w={142} h={40}>
        <Swatch x={9} y={22} w={16} h={3} c="#000" />
        <T x={32} y={21} s={15} a="l">MSL Pressure</T>
      </Panel>
      <Panel x={562} y={1611} w={297} h={45}>
        <T x={147} y={22} s={18}>{TITLE}</T>
      </Panel>
      <T x={595} y={2073} s={13}>Time (GMT)</T>
      <T x={169} y={1840} s={13} rot={-90} ls={0.5}>Pressure (mbar)</T>
    </>
  )
}

// ---- 5. grass temperature ----
function GrassChart() {
  return (
    <>
      <Frame x={149} y={2159} w={835} h={488} />
      <At x={149} y={2159}>
        <LineChart width={835} height={488} margin={{ top: 47, right: 0, bottom: 0, left: 0 }}>
          <XAxis type="number" dataKey="t" domain={[-83, 2513]} ticks={hourTicks} interval={0} allowDataOverflow height={57} tickSize={0} tickLine={false} axisLine={axis} tick={<TimeTick off={17} off2={33} />} />
          <YAxis yAxisId="l" type="number" domain={[-8, 24]} ticks={grassTicks} interval={0} allowDataOverflow width={50} tickSize={0} tickMargin={10} tickLine={false} axisLine={axis} tick={tk(11)} />
          <YAxis yAxisId="r" orientation="right" type="number" domain={[-14, 2]} ticks={diffTicks} interval={0} allowDataOverflow width={71} tickSize={0} tickMargin={9} tickLine={false} axisLine={axis} tick={tk(11)} />
          {hourTicks.map((v) => <ReferenceLine key={'v' + v} yAxisId="l" x={v} stroke="#000" strokeDasharray="1 2" />)}
          {grassGrid.map((v) => <ReferenceLine key={'h' + v} yAxisId="l" y={v} stroke="#000" strokeDasharray="1 2" />)}
          {grassSolid.map((v) => <ReferenceLine key={'s' + v} yAxisId="l" y={v} stroke="#000" strokeWidth={1.3} />)}
          <ReferenceArea yAxisId="l" x1={-83} x2={2513} y1={-8} y2={24} fill="none" stroke="#000" strokeWidth={1} />
          <Line yAxisId="r" data={pts(grassDiff)} dataKey="v" type="linear" stroke="#8a8a8a" strokeWidth={1.2} dot={false} activeDot={false} isAnimationActive={false} />
          <Line yAxisId="l" data={pts(grassTemp)} dataKey="v" type="linear" stroke="#000" strokeWidth={2} dot={false} activeDot={false} isAnimationActive={false} />
        </LineChart>
      </At>
      <Panel x={401} y={2160} w={306} h={41}>
        <T x={152} y={20} s={18}>{TITLE}</T>
      </Panel>
      <Panel x={495} y={2515} w={162} h={73}>
        <Swatch x={10} y={22} w={17} h={3} c="#000" />
        <T x={32} y={21} s={15} a="l">Grass level temp</T>
        <Swatch x={10} y={52} w={17} h={1} c="#8a8a8a" />
        <T x={32} y={51} s={15} a="l">Grass-air diff</T>
      </Panel>
      <T x={556} y={2637} s={12}>Time GMT</T>
      <T x={157} y={2399} s={13} rot={-90} ls={0.5}>Grass Temp (Deg C)</T>
      <T x={960} y={2399} s={13} rot={-90} ls={0.5}>Grass Temp minus Air Temp (Deg C)</T>
    </>
  )
}

// ---- 6. rainfall ----
function RainChart() {
  return (
    <>
      <Frame x={141} y={2723} w={834} h={480} />
      <At x={141} y={2723}>
        <LineChart width={834} height={480} margin={{ top: 7, right: 58, bottom: 0, left: 0 }}>
          <XAxis type="number" dataKey="t" domain={[-73, 2488]} ticks={hourTicks} interval={0} allowDataOverflow height={64} tickSize={0} tickLine={false} axisLine={axis} tick={<TimeTick off={18} off2={31} />} />
          <YAxis type="number" domain={[0, 10]} ticks={rainTicks} interval={0} allowDataOverflow width={52} tickSize={0} tickMargin={11} tickLine={false} axisLine={axis} tick={tk(11)} />
          {hourTicks.map((v) => <ReferenceLine key={'v' + v} x={v} stroke="#000" strokeDasharray="1 2" />)}
          {rainMinor.map((v) => <ReferenceLine key={'m' + v} y={v} stroke="#000" strokeDasharray="1 2" />)}
          {rainMajor.map((v) => <ReferenceLine key={'M' + v} y={v} stroke="#000" strokeWidth={2.2} />)}
          <ReferenceArea x1={-73} x2={2488} y1={0} y2={10} fill="none" stroke="#000" strokeWidth={1.5} />
          <Line data={pts(rainfall)} dataKey="v" type="linear" stroke="#000" strokeWidth={3} dot={false} activeDot={false} isAnimationActive={false} />
        </LineChart>
      </At>
      <Panel x={284} y={2729} w={284} h={57} shadow={false} border={false}>
        <T x={140} y={14} s={18}>{TITLE}</T>
        <T x={140} y={38} s={18}>Rainfall (TBR)</T>
      </Panel>
      <Panel x={227} y={2788} w={392} h={45} shadow={false} border={false}>
        <T x={194} y={23} s={18}>Corrected to equivalent of the standard gauge</T>
      </Panel>
      <T x={555} y={3189} s={13}>Time (GMT)</T>
      <T x={150} y={2935} s={13} rot={-90} ls={0.5}>Rainfall ( mm)</T>
      <T x={939} y={2935} s={13} rot={-90} ls={0.5}>Rainfall (mm)</T>
    </>
  )
}

// ---- 7. sunshine ----
function SunChart() {
  return (
    <>
      <Frame x={146} y={3279} w={849} h={468} />
      <At x={146} y={3279}>
        <LineChart width={849} height={468} margin={{ top: 12, right: 6, bottom: 0, left: 0 }}>
          <XAxis type="number" dataKey="t" domain={[2.39, 22.95]} ticks={sunHours} interval={0} allowDataOverflow height={48} tickSize={0} tickLine={false} axisLine={axis} tick={<TimeTick off={21} size={15} bold />} />
          <YAxis type="number" domain={[0, 150]} ticks={sunTicks} interval={0} allowDataOverflow width={76} tickSize={6} tickMargin={8} tickLine={{ stroke: '#000' }} axisLine={axis} tick={tk(11)} tickFormatter={(v: number) => (v === 50 ? '' : String(v))} />
          {sunHours.map((v) => <ReferenceLine key={'v' + v} x={v} stroke="#000" strokeDasharray="2 3" />)}
          {sunGrid.map((v) => <ReferenceLine key={'h' + v} y={v} stroke="#999" strokeDasharray="1 2" />)}
          <ReferenceArea x1={2.39} x2={22.95} y1={0} y2={150} fill="none" stroke="#000" strokeWidth={1} />
          <Line data={pts(sunshine)} dataKey="v" type="linear" stroke="#000" strokeWidth={2.5} dot={false} activeDot={false} isAnimationActive={false} />
        </LineChart>
      </At>
      <Panel x={417} y={3290} w={331} h={55} shadow={false} border={false}>
        <T x={163} y={10} s={17.5}>Wokingham sunshine</T>
        <T x={163} y={36} s={23}>08-Aug</T>
      </Panel>
      <Panel x={436} y={3347} w={304} h={56} shadow={false} border={false}>
        <T x={156} y={14} s={16} b>2026</T>
        <T x={155} y={38} s={24}>Total 12.41 Hrs</T>
      </Panel>
      <T x={603} y={3740} s={13}>Time (GMT)</T>
      <T x={169} y={3495} s={13} rot={-90} ls={0.5}>Sunshine (per cent per minute)</T>
    </>
  )
}

// ---- 8. wind ----
function WindChart() {
  return (
    <>
      <div style={{ position: 'absolute', left: 54, top: 4052, width: 948, height: 1, background: '#000' }} />
      <div style={{ position: 'absolute', left: 54, top: 4636, width: 948, height: 1, background: '#000' }} />
      <At x={54} y={4052}>
        <ComposedChart width={948} height={584} margin={{ top: 14, right: 0, bottom: 0, left: 0 }}>
          <XAxis type="number" dataKey="t" domain={[-83, 2493]} ticks={hourTicks} interval={0} allowDataOverflow height={64} tickSize={0} tickLine={false} axisLine={axis} tick={<TimeTick off={19} />} />
          <YAxis yAxisId="deg" type="number" domain={[0, 400]} ticks={degTicks} interval={0} allowDataOverflow width={75} tickSize={0} tickMargin={10} tickLine={false} axisLine={axis} tick={tk(10.5)} />
          <YAxis yAxisId="kt" orientation="right" type="number" domain={[0, 40]} ticks={ktTicks} interval={0} allowDataOverflow width={70} tickSize={0} tickMargin={12} tickLine={false} axisLine={axis} tick={tk(10.5)} />
          {hourTicks.map((v) => <ReferenceLine key={'v' + v} yAxisId="deg" x={v} stroke="#000" strokeDasharray="1 2" />)}
          {degGrid.map((v) => <ReferenceLine key={'h' + v} yAxisId="deg" y={v} stroke="#000" strokeWidth={1.3} />)}
          <Line yAxisId="kt" data={pts(gust)} dataKey="v" type="linear" stroke="#000" strokeWidth={1} dot={false} activeDot={false} isAnimationActive={false} />
          <Line yAxisId="kt" data={pts(meanSpeed)} dataKey="v" type="linear" stroke="#6e6e6e" strokeWidth={2} dot={false} activeDot={false} isAnimationActive={false} />
          <Scatter yAxisId="deg" data={dirPts} dataKey="d" shape={DirDot} isAnimationActive={false} />
        </ComposedChart>
      </At>
      <Panel x={246} y={4062} w={481} h={38} shadow={false} border={false}>
        <T x={238} y={4} s={19}>Wokingham 5 min wind estimate(based on Reading Uni)</T>
        <T x={238} y={27} s={16} b>20260808</T>
      </Panel>
      <Panel x={737} y={4052} w={192} h={51}>
        <svg width={14} height={14} style={{ position: 'absolute', left: 0, top: 7 }}>
          <circle cx={7} cy={7} r={3.3} fill="#4a4a4a" stroke="#111" strokeWidth={0.8} />
        </svg>
        <T x={16} y={14} s={11} a="l">Dirn</T>
        <Swatch x={104} y={14} w={10} h={2} c="#6e6e6e" />
        <T x={119} y={14} s={11} a="l">5 min mean sp</T>
        <Swatch x={3} y={40} w={8} h={1} c="#000" />
        <T x={18} y={40} s={11} a="l">gust</T>
      </Panel>
      <T x={532} y={4613} s={15}>Time, hours GMT</T>
      <T x={79} y={4325} s={16} rot={-90}>Degrees</T>
      <T x={979} y={4325} s={15} rot={90}>knots</T>
    </>
  )
}

export default function App() {
  return (
    <div style={{ position: 'relative', width: 1050, height: 5077, margin: '-8px 0 0 -8px', background: '#fff', fontFamily: FONT, overflow: 'hidden' }}>
      <TempChart />
      <RhChart />
      <MixChart />
      <PressureChart />
      <GrassChart />
      <RainChart />
      <SunChart />
      <WindChart />
    </div>
  )
}
